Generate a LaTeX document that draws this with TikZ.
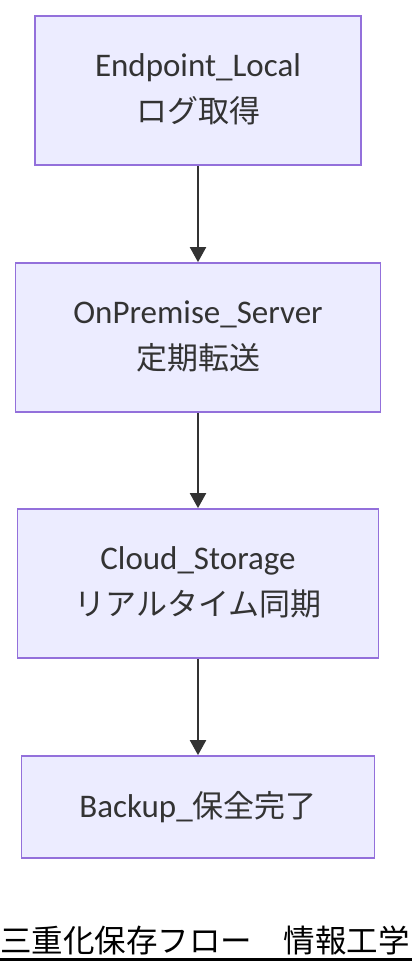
\documentclass[tikz,border=0pt]{standalone}
\usepackage{fontspec}
\setmainfont{Carlito}
\newfontfamily\jpfont{Noto Sans CJK JP}
\usetikzlibrary{arrows.meta}
\definecolor{boxfill}{HTML}{ECECFF}
\definecolor{boxline}{HTML}{9370DB}
\definecolor{ink}{HTML}{333333}
\tikzset{
  flowbox/.style={draw=boxline, fill=boxfill, line width=1.7pt, inner sep=0pt, rectangle},
  lat/.style={anchor=base, inner sep=0pt, text=ink, font=\fontsize{33}{40}\selectfont},
  jp/.style={anchor=base, inner sep=0pt, text=ink, font=\jpfont\fontsize{31}{40}\selectfont},
  flowarrow/.style={draw=ink, line width=2pt, -{Triangle[width=16pt,length=15pt]}},
  titletext/.style={anchor=base west, inner sep=0pt, text=black, font=\jpfont\fontsize{31.5}{38}\selectfont},
}
\begin{document}
\begin{tikzpicture}[x=1pt,y=-1pt]
\useasboundingbox (0,0) rectangle (412,972);
% boxes
\node[flowbox, minimum width=326pt, minimum height=149pt] (b1) at (198,90.5) {};
\node[flowbox, minimum width=365pt, minimum height=149pt] (b2) at (198,337.5) {};
\node[flowbox, minimum width=361pt, minimum height=149pt] (b3) at (198,583.5) {};
\node[flowbox, minimum width=353pt, minimum height=102pt] (b4) at (198,807) {};
% labels
\node[lat] (t1a) at (198,76.5) {Endpoint\_Local};
\node[jp]  (t1b) at (198,122) {ログ取得};
\node[lat] (t2a) at (198,323) {OnPremise\_Server};
\node[jp]  (t2b) at (198,369) {定期転送};
\node[lat] (t3a) at (198,569) {Cloud\_Storage};
\node[jp]  (t3b) at (198,615) {リアルタイム同期};
\node[lat] (t4a) at (198,817) {Backup\_{\jpfont\fontsize{31}{40}\selectfont 保全完了}};
% connectors
\draw[flowarrow] (b1.south) -- (b2.north);
\draw[flowarrow] (b2.south) -- (b3.north);
\draw[flowarrow] (b3.south) -- (b4.north);
% title
\node[titletext] (title) at (0,952) {三重化保存フロー　情報工学};
\coordinate (ul1) at (0,959.5);
\coordinate (ul2) at (412,959.5);
\draw[line width=2.5pt, black] (ul1) -- (ul2);
\end{tikzpicture}
\end{document}
